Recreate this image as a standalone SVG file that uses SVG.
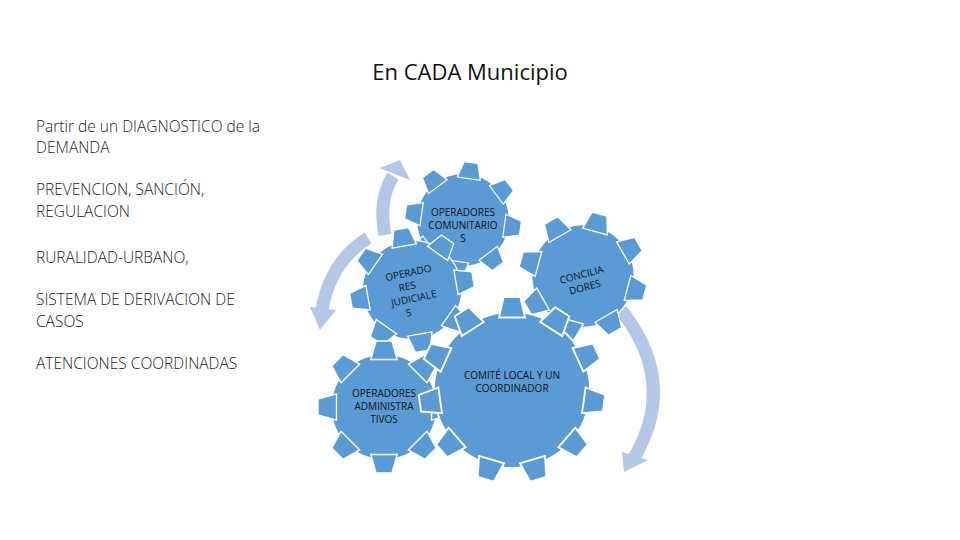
<svg xmlns="http://www.w3.org/2000/svg" width="960" height="540" viewBox="0 0 960 540">
<style>
.t{font-family:"Open Sans","Liberation Sans",sans-serif;font-size:15.5px;fill:#222;font-weight:300}
.g{fill:#5b9bd5;stroke:#fff;stroke-width:0.02}
.gl{font-family:"Open Sans","Liberation Sans",sans-serif;font-size:10px;fill:#111;text-anchor:middle}
.arc{fill:none;stroke:#b4c7e7;stroke-width:13}
.ah{fill:#b4c7e7}
</style>
<defs>
<g id="gear8" class="g">
<circle r="0.8"/>
<polygon id="tooth" points="-0.2,-0.72 0.2,-0.72 0.12,-1 -0.12,-1"/>
<use href="#tooth" transform="rotate(45)"/><use href="#tooth" transform="rotate(90)"/><use href="#tooth" transform="rotate(135)"/>
<use href="#tooth" transform="rotate(180)"/><use href="#tooth" transform="rotate(225)"/><use href="#tooth" transform="rotate(270)"/><use href="#tooth" transform="rotate(315)"/>
</g>
<g id="gear11" class="g">
<circle r="0.84"/>
<polygon id="tooth2" points="-0.14,-0.78 0.14,-0.78 0.09,-1 -0.09,-1"/>
<use href="#tooth2" transform="rotate(32.7)"/><use href="#tooth2" transform="rotate(65.4)"/><use href="#tooth2" transform="rotate(98.2)"/>
<use href="#tooth2" transform="rotate(130.9)"/><use href="#tooth2" transform="rotate(163.6)"/><use href="#tooth2" transform="rotate(196.4)"/><use href="#tooth2" transform="rotate(229.1)"/>
<use href="#tooth2" transform="rotate(261.8)"/><use href="#tooth2" transform="rotate(294.5)"/><use href="#tooth2" transform="rotate(327.3)"/>
</g>
</defs>
<text x="470" y="80" style="font-family:'Open Sans','Liberation Sans',sans-serif;font-size:22px;fill:#111" text-anchor="middle">En CADA Municipio</text>
<g id="left-text">
<text class="t" x="36" y="132">Partir de un DIAGNOSTICO de la</text>
<text class="t" x="36" y="153">DEMANDA</text>
<text class="t" x="36" y="195">PREVENCION, SANCIÓN,</text>
<text class="t" x="36" y="217">REGULACION</text>
<text class="t" x="36" y="263">RURALIDAD-URBANO,</text>
<text class="t" x="36" y="305"> SISTEMA DE DERIVACION DE</text>
<text class="t" x="36" y="327">CASOS</text>
<text class="t" x="36" y="369">ATENCIONES COORDINADAS</text>
</g>
<g id="connectors">
<path class="arc" d="M385,235 Q378,200 393,176"/>
<polygon class="ah" points="380,168 400,160 410,180"/>
<path class="arc" d="M368,238 Q330,262 322,310"/>
<polygon class="ah" points="310,307 336,310 320,330"/>
<path class="arc" d="M617,305 Q680,380 634,458"/>
<polygon class="ah" points="622,452 648,460 624,472"/>
</g>
<g id="comunitarios"><use href="#gear8" transform="translate(463,220) scale(58) rotate(8)"/>
<text class="gl" x="463" y="216">OPERADORES</text><text class="gl" x="463" y="229">COMUNITARIO</text><text class="gl" x="463" y="242">S</text></g>
<g id="judiciales"><use href="#gear8" transform="translate(412,290) scale(62) rotate(-10)"/>
<g transform="rotate(-12 412 290)"><text class="gl" x="412" y="276">OPERADO</text><text class="gl" x="408" y="289">RES</text><text class="gl" x="412" y="302">JUDICIALE</text><text class="gl" x="404" y="315">S</text></g></g>
<g id="conciliadores"><use href="#gear8" transform="translate(583,276) scale(64) rotate(15)"/>
<g transform="rotate(-15 583 280)"><text class="gl" x="583" y="278">CONCILIA</text><text class="gl" x="583" y="291">DORES</text></g></g>
<g id="administrativos"><use href="#gear8" transform="translate(384,407) scale(66)"/>
<text class="gl" x="384" y="397">OPERADORES</text><text class="gl" x="384" y="410">ADMINISTRA</text><text class="gl" x="384" y="423">TIVOS</text></g>
<g id="comite"><use href="#gear11" transform="translate(512,390) scale(93)"/>
<text class="gl" x="512" y="379">COMITÉ LOCAL Y UN</text><text class="gl" x="512" y="392">COORDINADOR</text></g>
</svg>
